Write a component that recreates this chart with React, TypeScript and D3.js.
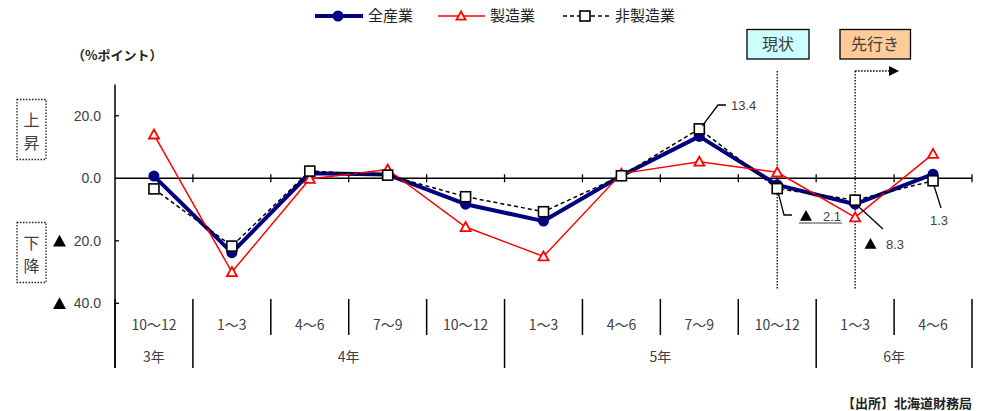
import * as d3 from "d3";

const categories = ["10〜12", "1〜3", "4〜6", "7〜9", "10〜12", "1〜3", "4〜6", "7〜9", "10〜12", "1〜3", "4〜6"];
const years = [
  { label: "3年", from: 0, to: 1 },
  { label: "4年", from: 1, to: 5 },
  { label: "5年", from: 5, to: 9 },
  { label: "6年", from: 9, to: 11 },
];
const allIndustry = [0.7, -23.8, 1.6, 1.2, -8.3, -13.7, 0.8, 13.4, -2.1, -8.3, 1.3];
const manufacturing = [14.0, -30.0, -0.2, 2.8, -15.6, -25.0, 1.5, 5.3, 1.9, -12.5, 7.8];
const nonManufacturing = [-3.4, -21.7, 2.3, 1.0, -5.9, -10.7, 0.8, 15.8, -3.3, -7.0, -0.8];
const yTicks = [20, 0, -20, -40];

const W = 988;
const H = 411;
const FONT = "'Noto Sans CJK JP', sans-serif";
const NUM = "'Liberation Sans', Arial, sans-serif";
const GREY = "#404040";

export default function App() {
  const x = d3.scaleBand<number>().domain(d3.range(categories.length)).range([115, 972]).padding(0);
  const y = d3.scaleLinear().domain([-40, 30]).range([303.3, 84.5]);
  const cx = (i: number) => (x(i) ?? 0) + x.bandwidth() / 2;
  const line = d3
    .line<number>()
    .x((_, i) => cx(i))
    .y((d) => y(d));

  const tri = (px: number, py: number, s = 5.5) =>
    `M${px},${py - s}L${px + s},${py + s * 0.8}L${px - s},${py + s * 0.8}Z`;

  const bounds = d3.range(categories.length + 1).map((i) => 115 + i * x.bandwidth());
  const yearBounds = new Set([0, ...years.map((yr) => yr.to)]);

  const nowX = cx(8);
  const nextX = cx(9);

  return (
    <svg width={W} height={H} style={{ position: "absolute", left: 0, top: 0 }}>
      <rect width={W} height={H} fill="#fff" />

      {/* legend */}
      <g fontFamily={FONT} fontSize={15} fill="#222">
        <line x1={315} x2={363} y1={16} y2={16} stroke="#000080" strokeWidth={4} />
        <circle cx={338} cy={16} r={5.5} fill="#000080" />
        <text x={368} y={21}>全産業</text>
        <line x1={438} x2={485} y1={16} y2={16} stroke="#ff0000" strokeWidth={1.5} />
        <path d={tri(461, 16, 4.5)} fill="#fff" stroke="#ff0000" strokeWidth={1.8} />
        <text x={490} y={21}>製造業</text>
        <line x1={563} x2={611} y1={16} y2={16} stroke="#000" strokeWidth={1.5} strokeDasharray="4,3" />
        <rect x={580} y={11} width={10} height={10} fill="#fff" stroke="#000" strokeWidth={1.6} />
        <text x={615} y={21}>非製造業</text>
      </g>

      <text x={72} y={60} fontFamily={FONT} fontSize={13} fontWeight="bold" fill="#222">（%ポイント）</text>

      {/* up/down boxes */}
      <g fontFamily={FONT} fontSize={16} fill={GREY} textAnchor="middle">
        <rect x={17} y={99.5} width={29} height={60} fill="none" stroke="#222" strokeWidth={1.3} strokeDasharray="1.5,1.5" />
        <text x={31.5} y={126}>上</text>
        <text x={31.5} y={149}>昇</text>
        <rect x={17} y={222.5} width={29} height={60} fill="none" stroke="#222" strokeWidth={1.3} strokeDasharray="1.5,1.5" />
        <text x={31.5} y={249}>下</text>
        <text x={31.5} y={272}>降</text>
      </g>

      {/* y axis */}
      <line x1={115} x2={115} y1={84.5} y2={368} stroke="#000" strokeWidth={1.5} />
      {yTicks.map((t) => (
        <g key={t}>
          {t !== 0 && <line x1={115} x2={119} y1={y(t)} y2={y(t)} stroke="#000" strokeWidth={1.3} />}
          <text x={101} y={y(t) + 5} textAnchor="end" fontFamily={NUM} fontSize={14} fill={GREY}>
            {Math.abs(t).toFixed(1)}
          </text>
          {t < 0 && <path d={tri(59.5, y(t) + 0.5, 6.5)} fill="#000" />}
        </g>
      ))}

      {/* zero line with crossing ticks */}
      <line x1={115} x2={972} y1={y(0)} y2={y(0)} stroke="#000" strokeWidth={1.3} />
      {bounds.slice(1).map((bx, i) => (
        <line key={i} x1={bx} x2={bx} y1={y(0) - 4} y2={y(0) + 4} stroke="#000" strokeWidth={1.3} />
      ))}

      {/* category table */}
      {bounds.map((bx, i) => (
        <line key={i} x1={bx} x2={bx} y1={299} y2={yearBounds.has(i) ? 368 : 335} stroke="#000" strokeWidth={1.5} />
      ))}
      <g fontFamily={FONT} fontSize={14} fill={GREY} textAnchor="middle">
        {categories.map((c, i) => (
          <text key={i} x={cx(i)} y={330}>{c}</text>
        ))}
      </g>
      <g fontFamily={FONT} fontSize={14} fill={GREY} textAnchor="middle">
        {years.map((yr) => (
          <text key={yr.label} x={(bounds[yr.from] + bounds[yr.to]) / 2} y={362}>{yr.label}</text>
        ))}
      </g>

      {/* now / outlook markers */}
      <line x1={nowX} x2={nowX} y1={71} y2={290} stroke="#000" strokeWidth={1.3} strokeDasharray="1.5,1.5" />
      <line x1={nextX} x2={nextX} y1={71} y2={290} stroke="#000" strokeWidth={1.3} strokeDasharray="1.5,1.5" />
      <line x1={nextX} x2={890} y1={71} y2={71} stroke="#000" strokeWidth={1.3} strokeDasharray="1.5,1.5" />
      <path d="M889,66L899,71L889,76Z" fill="#000" />
      <g fontFamily={FONT} fontSize={16} fill={GREY} textAnchor="middle">
        <rect x={747} y={29.5} width={62} height={29.5} fill="#ccffff" stroke="#000" strokeWidth={1.3} />
        <text x={778} y={50}>現状</text>
        <rect x={840} y={29.5} width={70.5} height={29.5} fill="#ffcc99" stroke="#000" strokeWidth={1.3} />
        <text x={875} y={50}>先行き</text>
      </g>

      {/* series */}
      <path d={line(allIndustry) ?? ""} fill="none" stroke="#000080" strokeWidth={4} strokeLinejoin="round" />
      {allIndustry.map((d, i) => (
        <circle key={i} cx={cx(i)} cy={y(d)} r={5.5} fill="#000080" />
      ))}
      <path d={line(manufacturing) ?? ""} fill="none" stroke="#ff0000" strokeWidth={1.5} />
      {manufacturing.map((d, i) => (
        <path key={i} d={tri(cx(i), y(d), 5)} fill="#fff" stroke="#ff0000" strokeWidth={1.8} />
      ))}
      <path d={line(nonManufacturing) ?? ""} fill="none" stroke="#000" strokeWidth={1.5} strokeDasharray="4,3" />
      {nonManufacturing.map((d, i) => (
        <rect key={i} x={cx(i) - 5} y={y(d) - 5} width={10} height={10} fill="#fff" stroke="#000" strokeWidth={1.6} />
      ))}

      {/* annotations */}
      <g stroke="#000" strokeWidth={1.3} fill="none">
        <path d={`M${cx(7) + 3},${y(nonManufacturing[7]) - 3}L718,105L726,105`} />
        <path d={`M${cx(8) + 1},${y(nonManufacturing[8]) + 4}L784,215L792,215`} />
        <path d={`M${cx(9) + 3},${y(allIndustry[9]) + 2}L883,229`} />
        <path d={`M${cx(10) + 1},${y(nonManufacturing[10]) + 5}L941,208`} />
      </g>
      <g fontFamily={NUM} fontSize={13} fill={GREY}>
        <text x={731} y={110}>13.4</text>
        <path d={tri(806, 216, 6)} fill="#000" />
        <text x={823} y={221}>2.1</text>
        <line x1={799} x2={842} y1={223} y2={223} stroke={GREY} strokeWidth={1.2} />
        <path d={tri(870.5, 244, 6)} fill="#000" />
        <text x={886} y={249}>8.3</text>
        <text x={930} y={225}>1.3</text>
      </g>

      <text x={972} y={408} textAnchor="end" fontFamily={FONT} fontSize={13} fontWeight="bold" fill="#222">
        【出所】北海道財務局
      </text>
    </svg>
  );
}
